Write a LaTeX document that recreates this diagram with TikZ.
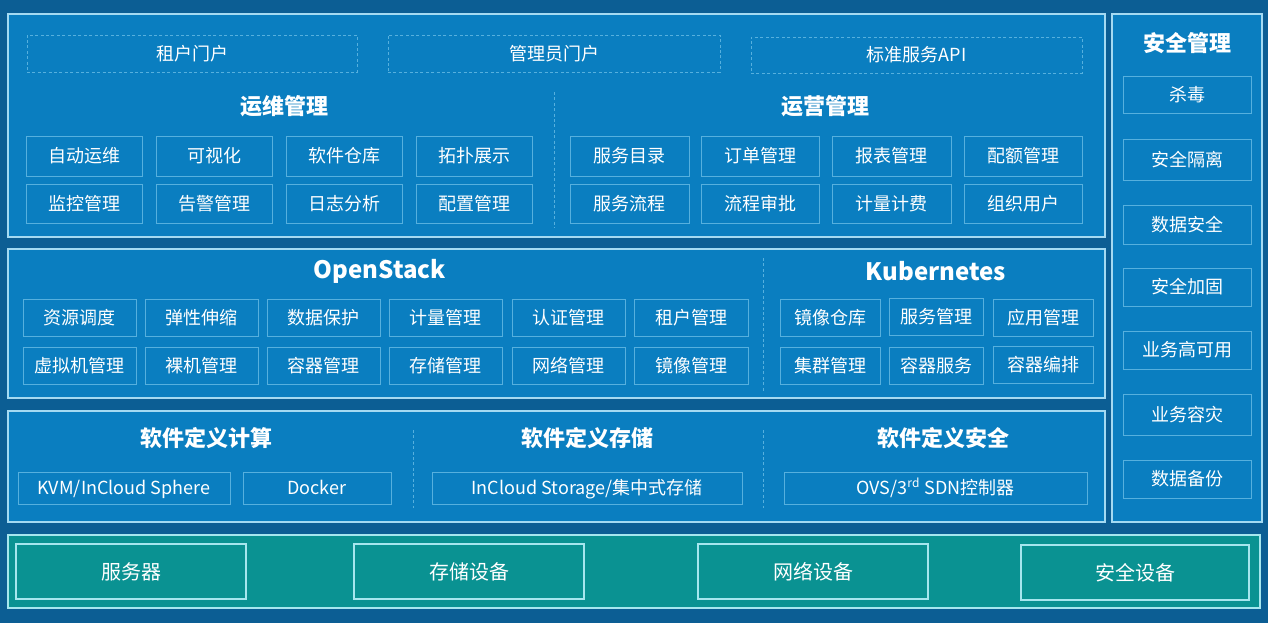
\documentclass[tikz,border=0pt]{standalone}
\usepackage{fontspec}
\setmainfont{Noto Sans CJK SC}
\definecolor{bgc}{HTML}{0C5E94}
\definecolor{panelc}{HTML}{0A7EC0}
\definecolor{plinec}{HTML}{A4DAF2}
\definecolor{blinec}{HTML}{56B0DE}
\definecolor{tealc}{HTML}{0A9292}
\definecolor{tlinec}{HTML}{A6E6EE}
\newcommand\bx[7]{\node[#1, minimum width={(#4-#2)*0.5pt}, minimum height={(#5-#3)*0.5pt}] (#6) at ({(#2+#4)/2},{(#3+#5)/2}) {#7};}
\tikzset{
  panelbox/.style={draw=plinec, line width=0.9pt, fill=panelc, inner sep=0pt},
  tealpanel/.style={draw=tlinec, line width=0.9pt, fill=tealc, inner sep=0pt},
  box/.style={draw=blinec, line width=0.5pt, text=white, font=\fontsize{9}{10}\selectfont, inner sep=0pt, text height=8.4pt, text depth=1.6pt},
  dbox/.style={box, dash pattern=on 1.5pt off 1.2pt},
  hwbox/.style={draw=tlinec, line width=0.6pt, text=white, font=\fontsize{10}{11}\selectfont, inner sep=0pt, text height=9.3pt, text depth=1.7pt},
  ttl/.style={text=white, font=\bfseries\fontsize{11}{12}\selectfont, inner sep=0pt},
  sepline/.style={draw=blinec, line width=0.4pt, dash pattern=on 1.5pt off 1.2pt}
}
\begin{document}
\begin{tikzpicture}[x=0.5pt, y=-0.5pt]
\useasboundingbox[fill=bgc] (0,0) rectangle (1268,623);
% panels
\bx{panelbox}{8}{14}{1105}{237}{ops}{}
\bx{panelbox}{8}{249}{1105}{398}{osp}{}
\bx{panelbox}{8}{411}{1105}{522}{sdx}{}
\bx{panelbox}{1112}{14}{1262}{522}{sec}{}
\bx{tealpanel}{8}{535}{1260}{608}{hw}{}
% portals
\bx{dbox}{27}{35}{357}{72}{p1}{租户门户}
\bx{dbox}{388}{35}{720}{72}{p2}{管理员门户}
\bx{dbox}{751}{37}{1082}{73}{p3}{标准服务API}
% ops titles
\node[ttl] (t1) at (284,106) {运维管理};
\node[ttl] (t2) at (825,106) {运营管理};
\coordinate (s1a) at (554,92); \coordinate (s1b) at (554,228);
\draw[sepline] (s1a) -- (s1b);
% ops left
\bx{box}{26}{136}{142}{176}{a1}{自动运维}
\bx{box}{156}{136}{272}{176}{a2}{可视化}
\bx{box}{286}{136}{402}{176}{a3}{软件仓库}
\bx{box}{416}{136}{532}{176}{a4}{拓扑展示}
\bx{box}{26}{184}{142}{223}{a5}{监控管理}
\bx{box}{156}{184}{272}{223}{a6}{告警管理}
\bx{box}{286}{184}{402}{223}{a7}{日志分析}
\bx{box}{416}{184}{532}{223}{a8}{配置管理}
% ops right
\bx{box}{570}{136}{689}{176}{b1}{服务目录}
\bx{box}{701}{136}{819}{176}{b2}{订单管理}
\bx{box}{832}{136}{951}{176}{b3}{报表管理}
\bx{box}{964}{136}{1082}{176}{b4}{配额管理}
\bx{box}{570}{184}{689}{223}{b5}{服务流程}
\bx{box}{701}{184}{819}{223}{b6}{流程审批}
\bx{box}{832}{184}{951}{223}{b7}{计量计费}
\bx{box}{964}{184}{1082}{223}{b8}{组织用户}
% openstack
\node[ttl, font=\bfseries\fontsize{12}{13}\selectfont] (t3) at (380,271) {OpenStack};
\node[ttl, font=\bfseries\fontsize{12}{13}\selectfont] (t4) at (936,271) {Kubernetes};
\coordinate (s2a) at (763,258); \coordinate (s2b) at (763,393);
\draw[sepline] (s2a) -- (s2b);
\bx{box}{23}{299}{136}{336}{c1}{资源调度}
\bx{box}{145}{299}{258}{336}{c2}{弹性伸缩}
\bx{box}{267}{299}{380}{336}{c3}{数据保护}
\bx{box}{389}{299}{502}{336}{c4}{计量管理}
\bx{box}{512}{299}{625}{336}{c5}{认证管理}
\bx{box}{634}{299}{748}{336}{c6}{租户管理}
\bx{box}{23}{347}{136}{384}{c7}{虚拟机管理}
\bx{box}{145}{347}{258}{384}{c8}{裸机管理}
\bx{box}{267}{347}{380}{384}{c9}{容器管理}
\bx{box}{389}{347}{502}{384}{c10}{存储管理}
\bx{box}{512}{347}{625}{384}{c11}{网络管理}
\bx{box}{634}{347}{748}{384}{c12}{镜像管理}
% kubernetes
\bx{box}{780}{299}{880}{336}{k1}{镜像仓库}
\bx{box}{889}{298}{983}{335}{k2}{服务管理}
\bx{box}{993}{299}{1093}{336}{k3}{应用管理}
\bx{box}{780}{347}{880}{384}{k4}{集群管理}
\bx{box}{889}{347}{983}{384}{k5}{容器服务}
\bx{box}{993}{346}{1093}{383}{k6}{容器编排}
% sdx
\node[ttl] (t5) at (206,438) {软件定义计算};
\node[ttl] (t6) at (587,438) {软件定义存储};
\node[ttl] (t7) at (943,438) {软件定义安全};
\coordinate (s3a) at (413,430); \coordinate (s3b) at (413,508);
\coordinate (s4a) at (763,430); \coordinate (s4b) at (763,508);
\draw[sepline] (s3a) -- (s3b);
\draw[sepline] (s4a) -- (s4b);
\bx{box}{18}{472}{230}{504}{d1}{KVM/InCloud Sphere}
\bx{box}{243}{472}{391}{504}{d2}{Docker}
\bx{box}{432}{472}{742}{504}{d3}{InCloud Storage/集中式存储}
\bx{box}{784}{472}{1087}{504}{d4}{OVS/3\textsuperscript{rd} SDN控制器}
% security
\node[ttl] (t8) at (1187,43) {安全管理};
\bx{box}{1123}{76}{1251}{113}{e1}{杀毒}
\bx{box}{1123}{139}{1251}{180}{e2}{安全隔离}
\bx{box}{1123}{205}{1251}{244}{e3}{数据安全}
\bx{box}{1123}{268}{1251}{306}{e4}{安全加固}
\bx{box}{1123}{331}{1251}{369}{e5}{业务高可用}
\bx{box}{1123}{394}{1251}{435}{e6}{业务容灾}
\bx{box}{1123}{460}{1251}{498}{e7}{数据备份}
% hardware
\bx{hwbox}{16}{544}{246}{599}{h1}{服务器}
\bx{hwbox}{354}{544}{584}{599}{h2}{存储设备}
\bx{hwbox}{698}{544}{928}{599}{h3}{网络设备}
\bx{hwbox}{1021}{545}{1249}{600}{h4}{安全设备}
\end{tikzpicture}
\end{document}
